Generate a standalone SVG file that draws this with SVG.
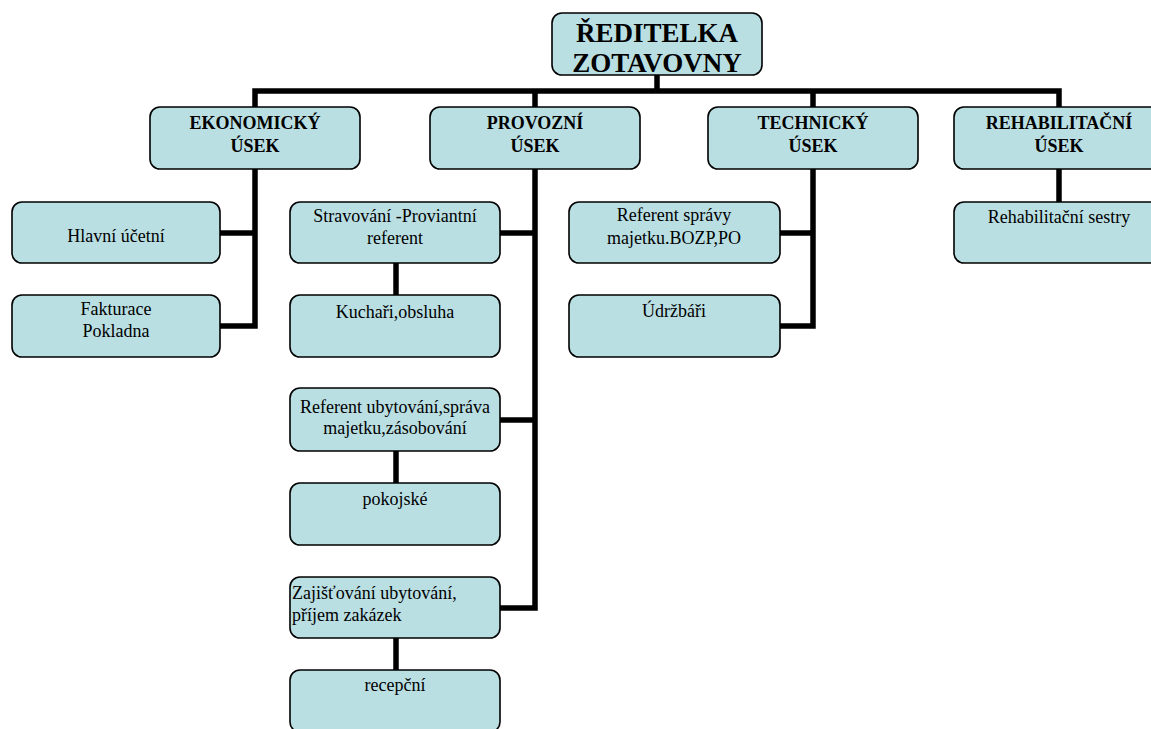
<svg xmlns="http://www.w3.org/2000/svg" width="1151" height="729" viewBox="0 0 1151 729">
<style>
.box{fill:#B9DFE3;stroke:#000;stroke-width:1.6}
.c{fill:none;stroke:#000;stroke-width:5.5;stroke-linejoin:miter;stroke-linecap:butt}
text{font-family:'Liberation Serif','Tinos','DejaVu Serif',serif;fill:#000}
.t{font-size:18px;text-anchor:middle}
.l{font-size:18px;text-anchor:start}
.b{font-weight:bold}
.h{font-size:27px;font-weight:bold;text-anchor:middle}
</style>
<rect width="1151" height="729" fill="#fff"/>
<g id="connectors">
<path class="c" d="M657,75 V91"/>
<path class="c" d="M255,107 V91 H1059 V107"/>
<path class="c" d="M535,91 V107"/>
<path class="c" d="M813,91 V107"/>
<path class="c" d="M255,169 V326 H220"/>
<path class="c" d="M255,233 H220"/>
<path class="c" d="M535,169 V608 H500"/>
<path class="c" d="M535,233 H500"/>
<path class="c" d="M535,420 H500"/>
<path class="c" d="M396,263 V295"/>
<path class="c" d="M396,451 V483"/>
<path class="c" d="M396,638 V670"/>
<path class="c" d="M813,169 V326 H780"/>
<path class="c" d="M813,233 H780"/>
<path class="c" d="M1059,169 V202"/>
</g>
<g id="n-reditelka">
<rect class="box" x="552" y="13" width="210" height="62" rx="10"/>
<text class="h" x="657" y="42">ŘEDITELKA</text>
<text class="h" x="657" y="72">ZOTAVOVNY</text>
</g>
<g id="n-ekonomicky">
<rect class="box" x="150" y="107" width="210" height="62" rx="10"/>
<text class="t b" x="255" y="129">EKONOMICKÝ</text>
<text class="t b" x="255" y="152">ÚSEK</text>
</g>
<g id="n-provozni">
<rect class="box" x="430" y="107" width="210" height="62" rx="10"/>
<text class="t b" x="535" y="129">PROVOZNÍ</text>
<text class="t b" x="535" y="152">ÚSEK</text>
</g>
<g id="n-technicky">
<rect class="box" x="708" y="107" width="210" height="62" rx="10"/>
<text class="t b" x="813" y="129">TECHNICKÝ</text>
<text class="t b" x="813" y="152">ÚSEK</text>
</g>
<g id="n-rehabilitacni">
<rect class="box" x="954" y="107" width="210" height="62" rx="10"/>
<text class="t b" x="1059" y="129">REHABILITAČNÍ</text>
<text class="t b" x="1059" y="152">ÚSEK</text>
</g>
<g id="n-hlavni">
<rect class="box" x="12" y="202" width="208" height="61" rx="10"/>
<text class="t" x="116" y="242">Hlavní účetní</text>
</g>
<g id="n-fakturace">
<rect class="box" x="12" y="295" width="208" height="62" rx="10"/>
<text class="t" x="116" y="315">Fakturace</text>
<text class="t" x="116" y="337">Pokladna</text>
</g>
<g id="n-stravovani">
<rect class="box" x="290" y="202" width="210" height="61" rx="10"/>
<text class="t" x="395" y="222">Stravování -Proviantní</text>
<text class="t" x="395" y="244">referent</text>
</g>
<g id="n-kuchari">
<rect class="box" x="290" y="295" width="210" height="62" rx="10"/>
<text class="t" x="395" y="318">Kuchaři,obsluha</text>
</g>
<g id="n-ref-ubytovani">
<rect class="box" x="290" y="388" width="210" height="63" rx="10"/>
<text class="t" x="395" y="413">Referent ubytování,správa</text>
<text class="t" x="395" y="434">majetku,zásobování</text>
</g>
<g id="n-pokojske">
<rect class="box" x="290" y="483" width="210" height="62" rx="10"/>
<text class="t" x="395" y="505">pokojské</text>
</g>
<g id="n-zajistovani">
<rect class="box" x="290" y="577" width="210" height="61" rx="10"/>
<text class="l" x="292" y="599">Zajišťování ubytování,</text>
<text class="l" x="292" y="621">příjem zakázek</text>
</g>
<g id="n-recepcni">
<rect class="box" x="290" y="670" width="210" height="62" rx="10"/>
<text class="t" x="395" y="691">recepční</text>
</g>
<g id="n-ref-spravy">
<rect class="box" x="569" y="202" width="211" height="61" rx="10"/>
<text class="t" x="674" y="221">Referent správy</text>
<text class="t" x="674" y="244">majetku.BOZP,PO</text>
</g>
<g id="n-udrzbari">
<rect class="box" x="569" y="295" width="211" height="62" rx="10"/>
<text class="t" x="674" y="317">Údržbáři</text>
</g>
<g id="n-rehab-sestry">
<rect class="box" x="954" y="202" width="210" height="61" rx="10"/>
<text class="t" x="1059" y="223">Rehabilitační sestry</text>
</g>
</svg>
